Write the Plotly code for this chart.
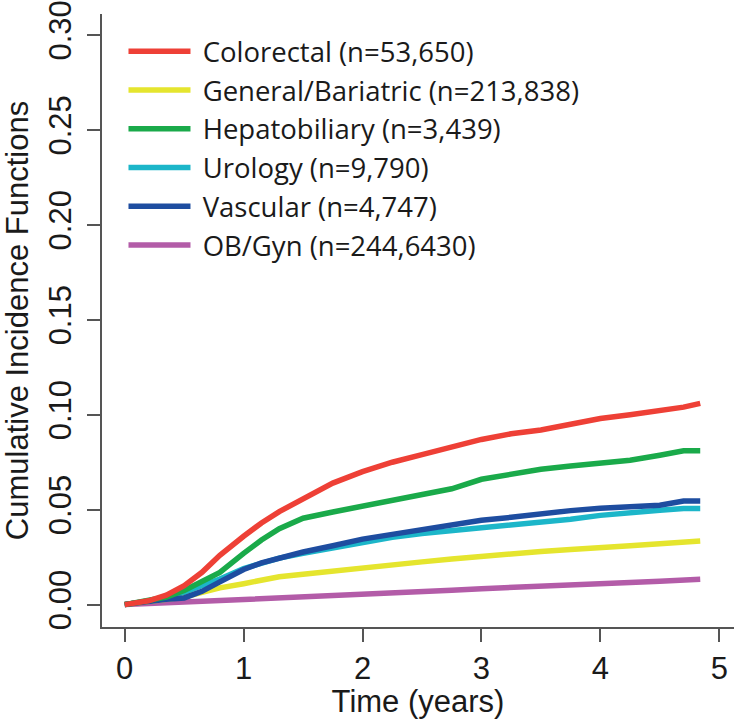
import plotly.graph_objects as go

time_years = [0, 0.2, 0.35, 0.5, 0.65, 0.8, 1.0, 1.15, 1.3, 1.5, 1.75, 2.0, 2.25, 2.5,
              2.75, 3.0, 3.25, 3.5, 3.75, 4.0, 4.25, 4.5, 4.7, 4.84]

colorectal = [0, 0.002, 0.005, 0.010, 0.017, 0.026, 0.036, 0.043, 0.049, 0.056, 0.064, 0.070,
              0.075, 0.079, 0.083, 0.087, 0.090, 0.092, 0.095, 0.098, 0.100, 0.102, 0.104, 0.106]
general = [0, 0.0015, 0.0025, 0.004, 0.0065, 0.0088, 0.011, 0.013, 0.0147, 0.016, 0.0178, 0.0195,
           0.021, 0.0225, 0.024, 0.0255, 0.0268, 0.028, 0.029, 0.0297, 0.031, 0.032, 0.033, 0.0335]
hepatobiliary = [0, 0.002, 0.004, 0.0075, 0.012, 0.017, 0.027, 0.034, 0.040, 0.0455, 0.0488, 0.052,
                 0.055, 0.058, 0.061, 0.066, 0.069, 0.0713, 0.073, 0.0744, 0.076, 0.0787, 0.081, 0.081]
urology = [0, 0.002, 0.0035, 0.0066, 0.010, 0.0135, 0.019, 0.022, 0.0245, 0.027, 0.030, 0.033,
           0.0355, 0.0375, 0.039, 0.040, 0.042, 0.0435, 0.045, 0.047, 0.048, 0.0497, 0.0506, 0.0506]
vascular = [0, 0.002, 0.0028, 0.0035, 0.007, 0.012, 0.0185, 0.022, 0.0245, 0.0277, 0.031, 0.0345,
            0.037, 0.0395, 0.042, 0.0444, 0.046, 0.048, 0.0495, 0.0507, 0.0515, 0.0523, 0.0546, 0.0546]
obgyn = [0, 0.0005, 0.001, 0.0014, 0.0018, 0.0022, 0.0029, 0.0033, 0.0037, 0.0042, 0.0049, 0.0056,
         0.0062, 0.0069, 0.0075, 0.0084, 0.0089, 0.0096, 0.0102, 0.0109, 0.0116, 0.0123, 0.0129, 0.0133]

series_names = ["Colorectal (n=53,650)", "General/Bariatric (n=213,838)", "Hepatobiliary (n=3,439)",
                "Urology (n=9,790)", "Vascular (n=4,747)", "OB/Gyn (n=244,6430)"]
series_values = [colorectal, general, hepatobiliary, urology, vascular, obgyn]
series_colors = ["#EE4036", "#E5E52E", "#1AAA4A", "#1CB6C9", "#1E4DA0", "#B35CA8"]

x_ticks = [0, 1, 2, 3, 4, 5]
y_ticks = [0.00, 0.05, 0.10, 0.15, 0.20, 0.25, 0.30]
y_tick_labels = ["0.00", "0.05", "0.10", "0.15", "0.20", "0.25", "0.30"]

fig = go.Figure()
# draw order: OB/Gyn underneath, red on top
draw_order = [5, 1, 3, 4, 2, 0]
for i in draw_order:
    fig.add_trace(go.Scatter(
        x=time_years, y=series_values[i], mode="lines", name="\u00a0" + series_names[i],
        line=dict(color=series_colors[i], width=5.5), legendgroup=f"g{i}", legendrank=i + 1,
    ))

axis_font = dict(family="Liberation Sans, Arial, sans-serif", size=31, color="#1a1a1a")

fig.update_layout(
    width=734, height=719,
    margin=dict(l=102, r=0, t=14, b=92),
    plot_bgcolor="white", paper_bgcolor="white",
    showlegend=True,
    legend=dict(
        x=0.034, y=0.979, xanchor="left", yanchor="top",
        font=dict(family="Open Sans, Lato, sans-serif", size=27.5, color="#1a1a1a"),
        itemwidth=62, tracegroupgap=0, traceorder="grouped",
        bgcolor="rgba(0,0,0,0)",
    ),
    xaxis=dict(
        range=[-0.191, 5.124], tickvals=x_ticks, ticktext=[str(v) for v in x_ticks],
        showgrid=False, zeroline=False, showline=True, linecolor="#555555", linewidth=2,
        ticks="outside", ticklen=13, tickwidth=2, tickcolor="#555555",
        tickfont=axis_font,
        title=dict(text="Time (years)", font=axis_font, standoff=0),
    ),
    yaxis=dict(
        range=[-0.0118, 0.3111], tickvals=y_ticks, ticktext=y_tick_labels,
        showgrid=False, zeroline=False, showline=True, linecolor="#555555", linewidth=2,
        ticks="outside", ticklen=13, tickwidth=2, tickcolor="#555555",
        tickfont=axis_font, tickangle=-90, ticklabelstandoff=4,
        title=dict(text="Cumulative Incidence Functions", font=axis_font, standoff=8),
    ),
)

fig.write_html("out.html")
